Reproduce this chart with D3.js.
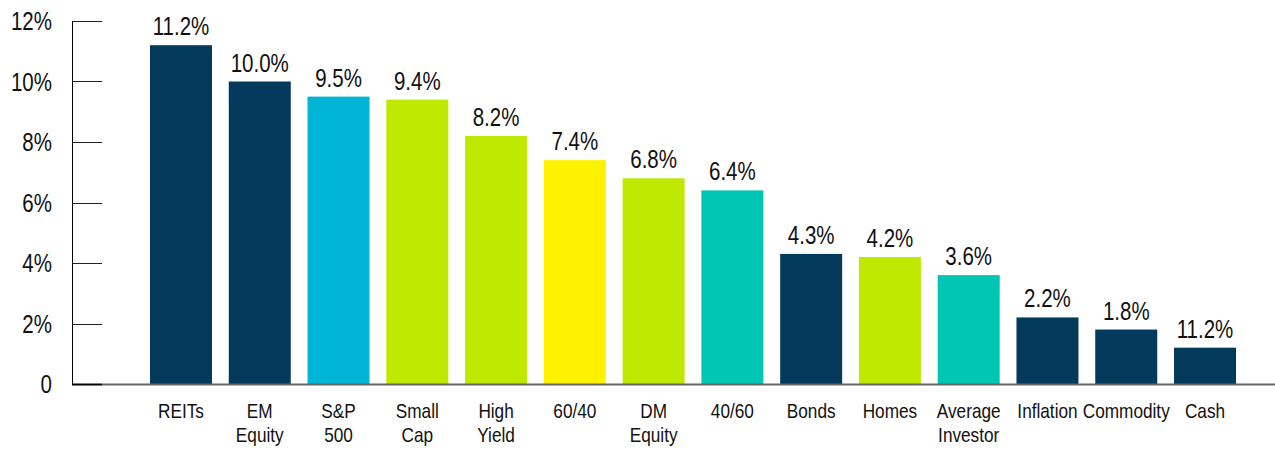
<!DOCTYPE html>
<html>
<head>
<meta charset="utf-8">
<script src="https://cdn.jsdelivr.net/npm/d3@7"></script>
<style>
  body { margin: 0; background: #fff; }
  text { font-family: "Liberation Sans", Arial, sans-serif; fill: #111; }
</style>
</head>
<body>
<svg id="chart"></svg>
<script>
// Chart data
const categories = [["REITs"], ["EM", "Equity"], ["S&P", "500"], ["Small", "Cap"], ["High", "Yield"], ["60/40"], ["DM", "Equity"], ["40/60"], ["Bonds"], ["Homes"], ["Average", "Investor"], ["Inflation"], ["Commodity"], ["Cash"]];
const values = [11.2, 10.0, 9.5, 9.4, 8.2, 7.4, 6.8, 6.4, 4.3, 4.2, 3.6, 2.2, 1.8, 1.2];
// value labels as printed on the original (the Cash label reads 11.2%)
const valueLabels = ["11.2%", "10.0%", "9.5%", "9.4%", "8.2%", "7.4%", "6.8%", "6.4%", "4.3%", "4.2%", "3.6%", "2.2%", "1.8%", "11.2%"];
const barColors = ["#033A5C", "#033A5C", "#00B5D5", "#BFE900", "#BFE900", "#FFF200", "#BFE900", "#00C6B3", "#033A5C", "#BFE900", "#00C6B3", "#033A5C", "#033A5C", "#033A5C"];
const yTicks = [0, 2, 4, 6, 8, 10, 12];
const yTickLabels = ["0", "2%", "4%", "6%", "8%", "10%", "12%"];

const width = 1275, height = 450;
// the original text is condensed; squeeze a regular sans horizontally
const squeeze = 0.82;
const svg = d3.select("#chart").attr("width", width).attr("height", height);

const x = d3.scaleBand()
    .domain(d3.range(values.length))
    .range([141.6, 1244.4])
    .paddingInner(0.213)
    .paddingOuter(0.1065);

const y = d3.scaleLinear().domain([0, 12]).range([384, 21]);

// y axis: vertical line + short ticks to the right
svg.append("line")
   .attr("x1", 72.5).attr("x2", 72.5)
   .attr("y1", y(12)).attr("y2", y(0))
   .attr("stroke", "#000").attr("stroke-width", 1);

svg.append("g")
   .selectAll("line")
   .data(yTicks.filter(d => d > 0))
   .join("line")
   .attr("x1", 72).attr("x2", 102)
   .attr("y1", d => Math.round(y(d)) + 0.5).attr("y2", d => Math.round(y(d)) + 0.5)
   .attr("stroke", "#222").attr("stroke-width", 1);

svg.append("g")
   .selectAll("g")
   .data(yTicks)
   .join("g")
   .attr("transform", d => `translate(52,${y(d)}) scale(${squeeze},1)`)
   .append("text")
   .attr("dy", "0.36em")
   .attr("text-anchor", "end")
   .style("font-size", "25px")
   .text((d, i) => yTickLabels[i]);

// bars
svg.append("g")
   .selectAll("rect")
   .data(values)
   .join("rect")
   .attr("x", (d, i) => x(i))
   .attr("y", d => y(d))
   .attr("width", x.bandwidth())
   .attr("height", d => y(0) - y(d))
   .attr("fill", (d, i) => barColors[i]);

// baseline
svg.append("line")
   .attr("x1", 102).attr("x2", width)
   .attr("y1", y(0) + 0.5).attr("y2", y(0) + 0.5)
   .attr("stroke", "#666").attr("stroke-width", 2);
svg.append("line")
   .attr("x1", 72).attr("x2", 102)
   .attr("y1", y(0) + 0.5).attr("y2", y(0) + 0.5)
   .attr("stroke", "#000").attr("stroke-width", 2);

// value labels
svg.append("g")
   .selectAll("g")
   .data(values)
   .join("g")
   .attr("transform", (d, i) => `translate(${x(i) + x.bandwidth() / 2},${y(d) - 10}) scale(${squeeze},1)`)
   .append("text")
   .attr("text-anchor", "middle")
   .style("font-size", "25px")
   .text((d, i) => valueLabels[i]);

// category labels
const cat = svg.append("g")
   .selectAll("g")
   .data(categories)
   .join("g")
   .attr("transform", (d, i) => `translate(${x(i) + x.bandwidth() / 2},418) scale(${squeeze},1)`)
   .append("text")
   .attr("text-anchor", "middle")
   .style("font-size", "21px");

cat.selectAll("tspan")
   .data(d => d)
   .join("tspan")
   .attr("x", 0)
   .attr("dy", (d, i) => i === 0 ? 0 : 24)
   .text(d => d);
</script>
</body>
</html>
